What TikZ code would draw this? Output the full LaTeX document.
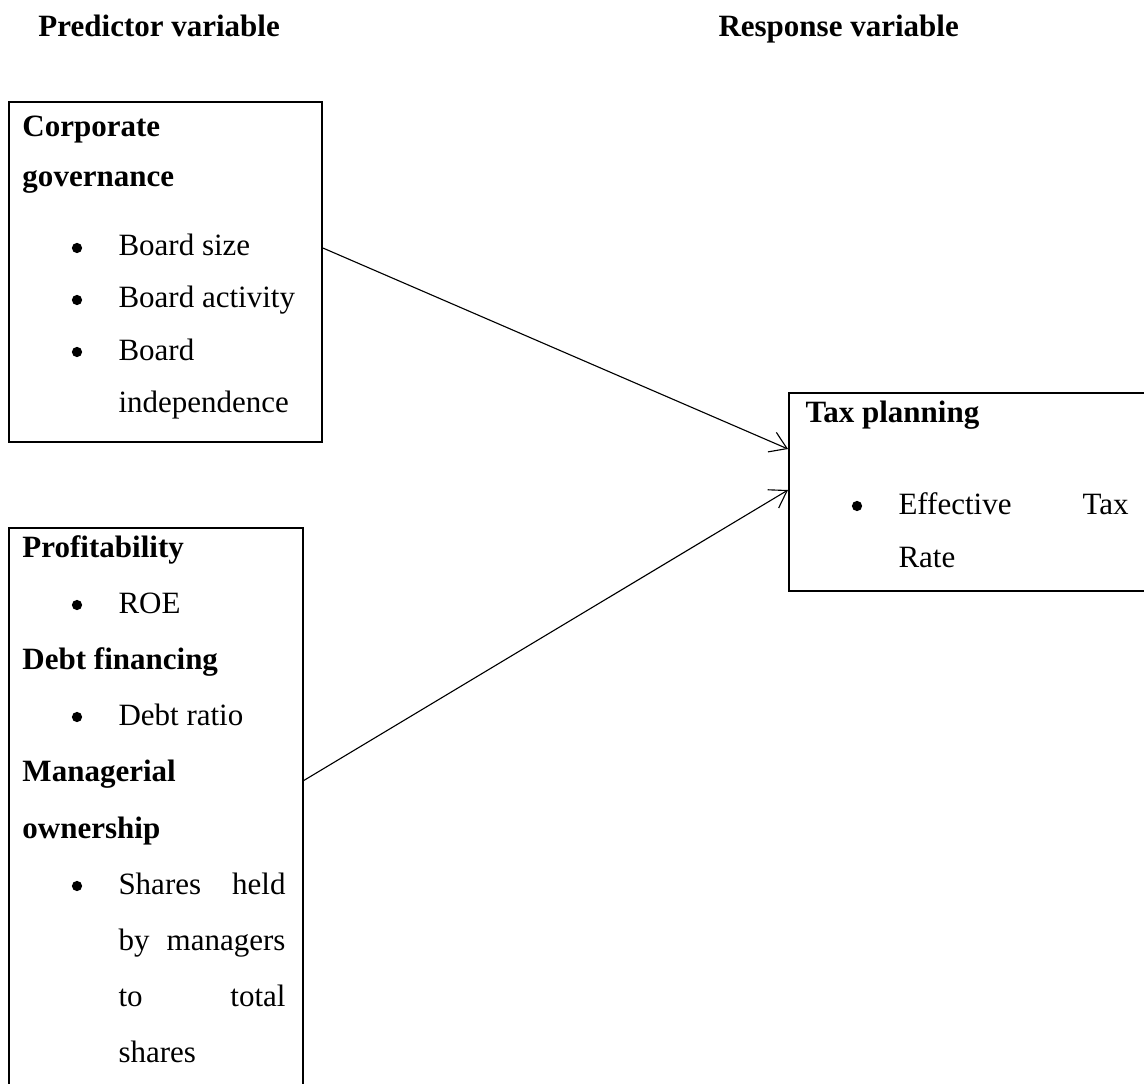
\documentclass[tikz,border=0pt]{standalone}
\usepackage{fontspec}
\setmainfont{Liberation Serif}
\usetikzlibrary{arrows.meta,calc}
\tikzset{
  varbox/.style={draw,line width=0.8pt,anchor=north west,inner sep=0pt},
  hdtxt/.style={font=\fontsize{12.4}{15}\selectfont\bfseries,anchor=base west,inner sep=0pt},
  itemtxt/.style={font=\fontsize{12.4}{15}\selectfont,anchor=base west,inner sep=0pt},
  jsttxt/.style={itemtxt,text width=#1},
  bul/.style={circle,fill=black,inner sep=0pt,minimum size=4.1pt},
  link/.style={-{Straight Barb[length=6.5pt,width=8.5pt]},line width=0.45pt},
}
\begin{document}
\begin{tikzpicture}[x=0.4pt,y=-0.4pt]
  \useasboundingbox (0,0) rectangle (1144,1084);
  % column titles
  \node[hdtxt] (pv) at (38,37) {Predictor variable};
  \node[hdtxt] (rv) at (718,37) {Response variable};
  % boxes
  \node[varbox,minimum width=125.2pt,minimum height=136pt] (cg) at (8,101) {};
  \node[varbox,minimum width=117.4pt,minimum height=229pt] (pr) at (8,527) {};
  \node[varbox,minimum width=145pt,minimum height=79.2pt] (tp) at (788,392) {};
  % corporate governance
  \node[hdtxt] (cg1) at (22,137) {Corporate};
  \node[hdtxt] (cg2) at (22,187) {governance};
  \node[bul] (cb1) at (77,248) {};
  \node[itemtxt] (cg3) at (118,256) {Board size};
  \node[bul] (cb2) at (77,300) {};
  \node[itemtxt] (cg4) at (118,308) {Board activity};
  \node[bul] (cb3) at (77,352) {};
  \node[itemtxt] (cg5) at (118,360) {Board};
  \node[itemtxt] (cg6) at (118,412) {independence};
  % profitability, debt, ownership
  \node[hdtxt] (pr1) at (22,557) {Profitability};
  \node[bul] (pb1) at (77,605) {};
  \node[itemtxt] (pr2) at (118,613) {ROE};
  \node[hdtxt] (pr3) at (22,669) {Debt financing};
  \node[bul] (pb2) at (77,717) {};
  \node[itemtxt] (pr4) at (118,725) {Debt ratio};
  \node[hdtxt] (pr5) at (22,781) {Managerial};
  \node[hdtxt] (pr6) at (22,838) {ownership};
  \node[bul] (pb3) at (77,886) {};
  \node[jsttxt=66.8pt] (pr7) at (118,894) {Shares\hfill held};
  \node[jsttxt=66.8pt] (pr8) at (118,950) {by\hfill managers};
  \node[jsttxt=66.8pt] (pr9) at (118,1006) {to\hfill total};
  \node[itemtxt] (pr10) at (118,1062) {shares};
  % tax planning
  \node[hdtxt] (tp1) at (805,422) {Tax planning};
  \node[bul] (tb1) at (857,506) {};
  \node[jsttxt=92pt] (tp2) at (898,514) {Effective\hfill Tax};
  \node[itemtxt] (tp3) at (898,567) {Rate};
  % links
  \draw[link] ($(cg.north east)!.43!(cg.south east)$) -- ($(tp.north west)!.285!(tp.south west)$);
  \draw[link] ($(pr.north east)!.4415!(pr.south east)$) -- ($(tp.north west)!.49!(tp.south west)$);
\end{tikzpicture}
\end{document}
